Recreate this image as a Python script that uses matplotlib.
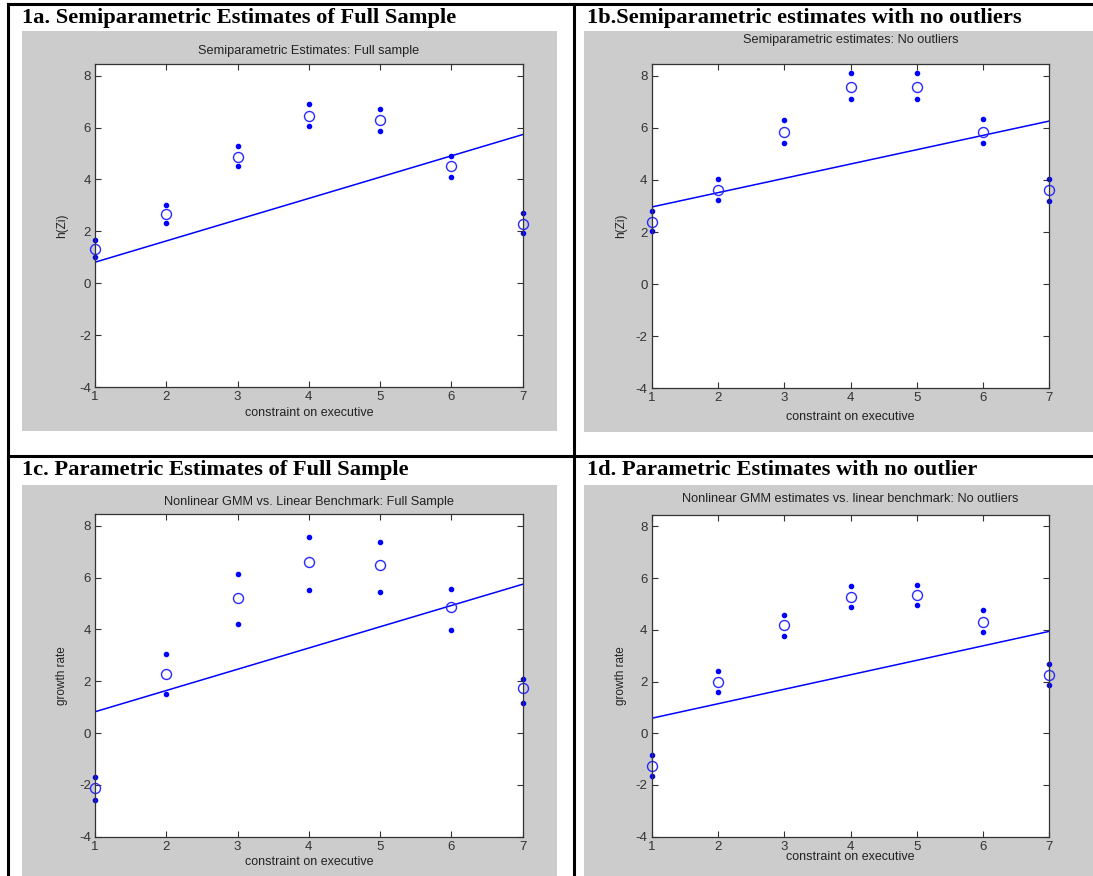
import numpy as np
import matplotlib.pyplot as plt
from matplotlib.patches import Rectangle
from matplotlib.lines import Line2D

plt.rcParams['axes.unicode_minus'] = False

W, H = 1093, 876

levels = [1, 2, 3, 4, 5, 6, 7]

# 1a: semiparametric, full sample
semi_full = [1.31, 2.66, 4.87, 6.43, 6.29, 4.50, 2.30]
semi_full_hi = [1.66, 3.02, 5.28, 6.90, 6.70, 4.91, 2.69]
semi_full_lo = [1.00, 2.31, 4.51, 6.05, 5.87, 4.11, 1.95]
semi_full_lin = [0.81, 5.73]

# 1b: semiparametric, no outliers
semi_noout = [2.39, 3.61, 5.84, 7.57, 7.57, 5.84, 3.61]
semi_noout_hi = [2.82, 4.04, 6.30, 8.09, 8.09, 6.34, 4.04]
semi_noout_lo = [2.03, 3.23, 5.40, 7.12, 7.12, 5.40, 3.19]
semi_noout_lin = [2.96, 6.26]

# 1c: nonlinear GMM, full sample
gmm_full = [-2.13, 2.28, 5.19, 6.58, 6.48, 4.87, 1.72]
gmm_full_hi = [-1.68, 3.03, 6.13, 7.55, 7.37, 5.55, 2.08]
gmm_full_lo = [-2.59, 1.50, 4.19, 5.51, 5.43, 3.97, 1.14]
gmm_full_lin = [0.82, 5.74]

# 1d: nonlinear GMM, no outliers
gmm_noout = [-1.25, 1.99, 4.17, 5.26, 5.34, 4.32, 2.25]
gmm_noout_hi = [-0.84, 2.40, 4.59, 5.68, 5.75, 4.75, 2.67]
gmm_noout_lo = [-1.64, 1.60, 3.77, 4.89, 4.97, 3.92, 1.86]
gmm_noout_lin = [0.58, 3.94]

headers = ['1a. Semiparametric Estimates of Full Sample',
           '1b.Semiparametric estimates with no outliers',
           '1c. Parametric Estimates of Full Sample',
           '1d. Parametric Estimates with no outlier']
titles = ['Semiparametric Estimates: Full sample',
          'Semiparametric estimates: No outliers',
          'Nonlinear GMM vs. Linear Benchmark: Full Sample',
          'Nonlinear GMM estimates vs. linear benchmark: No outliers']
ylabels = ['h(Zi)', 'h(Zi)', 'growth rate', 'growth rate']
xlabel = 'constraint on executive'


def fbox(x0, y0, x1, y1):
    # pixel box (top-left origin) -> figure fraction
    return [x0 / W, 1 - y1 / H, (x1 - x0) / W, (y1 - y0) / H]


fig = plt.figure(figsize=(W / 100, H / 100), dpi=100)
fig.patch.set_facecolor('white')

# grey figure backgrounds
grey = [(22, 31, 557, 431), (584, 31, 1093, 432),
        (22, 485, 557, 876), (584, 485, 1093, 876)]
for g in grey:
    fig.add_artist(Rectangle((g[0] / W, 1 - g[3] / H), (g[2] - g[0]) / W,
                             (g[3] - g[1]) / H, transform=fig.transFigure,
                             facecolor='#cccccc', edgecolor='none', zorder=0))

# table rules
rules = [((7.5, 7.5), (4, 876)), ((573.5, 573.5), (4, 876)),
         ((7.5, 1093), (4, 4)), ((7.5, 1093), (456, 456))]
for xs, ys in rules:
    fig.add_artist(Line2D([x / W for x in xs], [1 - y / H for y in ys],
                          transform=fig.transFigure, color='black', lw=2.2))

header_pos = [(22, 18), (587, 18), (22, 470), (587, 470)]
for (hx, hy), txt in zip(header_pos, headers):
    fig.text(hx / W, 1 - hy / H, txt, family='Liberation Serif',
             weight='bold', fontsize=16.2, va='center', ha='left')

axes_px = [(95, 64, 522.7, 387), (651.7, 64, 1049.3, 388.3),
           (95, 514, 522.7, 836.7), (651.7, 514.7, 1049.3, 836.7)]
title_y = [1.04, 1.075, 1.037, 1.05]
xlab_y = [-0.08, -0.089, -0.078, -0.063]

series = [(semi_full, semi_full_hi, semi_full_lo, semi_full_lin),
          (semi_noout, semi_noout_hi, semi_noout_lo, semi_noout_lin),
          (gmm_full, gmm_full_hi, gmm_full_lo, gmm_full_lin),
          (gmm_noout, gmm_noout_hi, gmm_noout_lo, gmm_noout_lin)]

for i in range(4):
    ax = fig.add_axes(fbox(*axes_px[i]))
    est, hi, lo, lin = series[i]
    ax.plot([levels[0], levels[-1]], lin, color='#0000ff', lw=1.1)
    ax.plot(levels, hi, 'o', color='#0000ff', ms=3.0, clip_on=False)
    ax.plot(levels, lo, 'o', color='#0000ff', ms=3.0, clip_on=False)
    ax.plot(levels, est, 'o', mfc='none', mec='#2a2aff', ms=7.2, mew=1.0,
            clip_on=False)
    ax.set_xlim(1, 7)
    ax.set_ylim(-4, 8.45)
    ax.set_xticks(levels)
    ax.set_yticks([-4, -2, 0, 2, 4, 6, 8])
    ax.tick_params(direction='in', length=4, width=0.8, top=True, right=True,
                   labelsize=9.5, colors='#333333', pad=3)
    for lab in ax.get_xticklabels() + ax.get_yticklabels():
        lab.set_family('Liberation Sans')
    for sp in ax.spines.values():
        sp.set_color('#333333')
        sp.set_linewidth(0.9)
    ax.text(0.5, title_y[i], titles[i], transform=ax.transAxes, ha='center',
            va='center', fontsize=9.2, family='Liberation Sans', color='#222222')
    ax.text(0.5, xlab_y[i], xlabel, transform=ax.transAxes, ha='center',
            va='center', fontsize=9, family='Liberation Sans', color='#222222')
    ax.text(-0.077, 0.5, ylabels[i], transform=ax.transAxes, ha='center',
            va='center', rotation=90, fontsize=8.5, family='Liberation Sans',
            color='#222222')

plt.savefig('out.png', dpi=100)
